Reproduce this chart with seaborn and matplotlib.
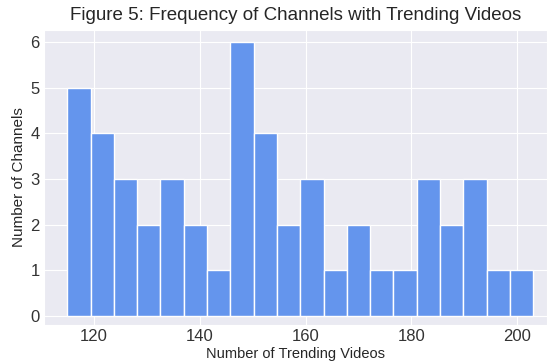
import numpy as np
import pandas as pd
import matplotlib
matplotlib.use("Agg")
import matplotlib.pyplot as plt
import seaborn as sns

# histogram: 20 bins between 115 and 203
bin_low, bin_high, n_bins = 115, 203, 20
bin_counts = [5, 4, 3, 2, 3, 2, 1, 6, 4, 2, 3, 1, 2, 1, 1, 3, 2, 3, 1, 1]
bin_edges = np.linspace(bin_low, bin_high, n_bins + 1)
bin_centers = (bin_edges[:-1] + bin_edges[1:]) / 2

df = pd.DataFrame({"videos": bin_centers, "channels": bin_counts})

sns.set_style("darkgrid")
plt.rcParams["font.family"] = ["Liberation Sans", "DejaVu Sans"]

fig = plt.figure(figsize=(5.47, 3.64), dpi=100)
ax = fig.add_axes([44 / 547, 1 - 325 / 364, 1 - 44 / 547, (325 - 30) / 364])

sns.histplot(data=df, x="videos", weights="channels", bins=n_bins,
             binrange=(bin_low, bin_high),
             color="#6495ED", edgecolor="white", linewidth=1, alpha=1, ax=ax)

ax.set_xlim(110.6, 205.6)
ax.set_ylim(-0.2, 6.26)
ax.set_xticks([120, 140, 160, 180, 200])
ax.set_yticks(range(0, 7))
ax.tick_params(labelsize=12, colors="#333333", length=0, pad=3)
ax.set_title("Figure 5: Frequency of Channels with Trending Videos",
             fontsize=13.5, color="#262626", pad=7)
ax.set_xlabel("Number of Trending Videos", fontsize=10.5, color="#262626",
              labelpad=2)
ax.set_ylabel("Number of Channels", fontsize=11, color="#262626",
              labelpad=3)

fig.savefig("out.png", dpi=100)
